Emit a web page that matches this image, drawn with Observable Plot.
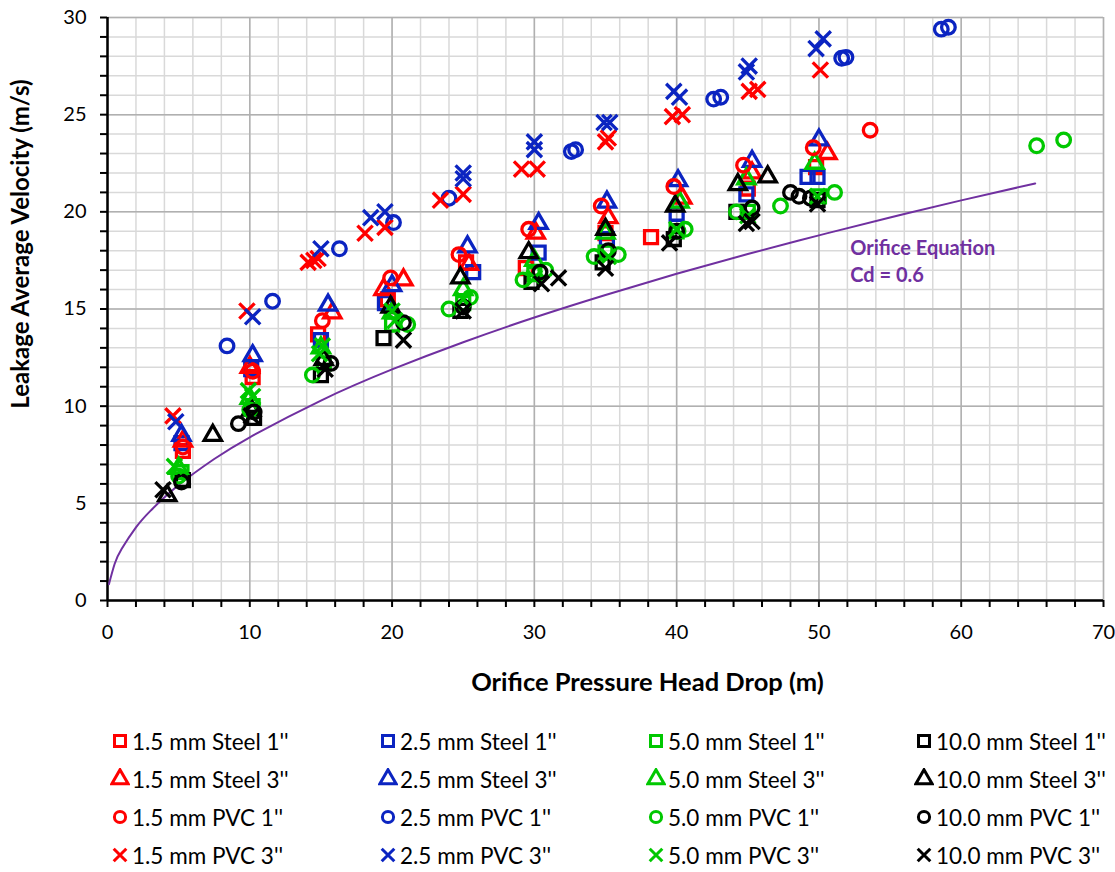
<!DOCTYPE html>
<html><head><meta charset="utf-8">
<script src="https://cdn.jsdelivr.net/npm/d3@7"></script>
<script src="https://cdn.jsdelivr.net/npm/@observablehq/plot@0.6"></script>
<style>
body{margin:0;background:#fff;font-family:Lato,"Open Sans",sans-serif;}
#wrap{position:relative;width:1115px;height:872px;overflow:hidden;}
.leg{position:absolute;display:flex;align-items:center;font-size:22.5px;color:#000;white-space:nowrap;height:30px;}
.leg svg{margin-right:2px;}
</style></head><body><div id="wrap"></div>
<script>
// ---- data: [head drop (m), velocity (m/s)] ----
const s15Steel1 = [[5.3,7.7],[10.2,11.5],[14.8,13.7],[19.7,15.5],[25.2,17.4],[29.4,17.1],[35.0,18.9],[38.2,18.7],[45.0,21.2],[49.8,22.3]];
const s25Steel1 = [[5.2,8.1],[10.1,11.9],[15.0,13.4],[19.5,15.3],[25.7,16.9],[30.3,17.9],[35.1,18.6],[40.0,19.9],[44.9,20.9],[49.2,21.8],[49.9,21.8]];
const s50Steel1 = [[5.2,6.6],[10.2,10.0],[15.2,12.2],[20.0,14.2],[25.0,15.3],[30.0,16.8],[35.0,17.9],[40.0,19.0],[45.0,20.0],[50.0,20.8]];
const s100Steel1 = [[5.3,6.2],[10.3,9.4],[15.0,11.6],[19.4,13.5],[24.8,14.9],[29.8,16.4],[34.8,17.4],[39.8,18.6],[44.2,20.0],[49.9,20.6]];

const s15Steel3 = [[5.3,8.2],[10.0,12.0],[15.8,14.8],[19.4,16.0],[20.8,16.5],[25.4,17.3],[30.1,18.9],[35.2,19.7],[40.4,20.7],[45.3,22.0],[50.6,23.0]];
const s25Steel3 = [[5.2,8.5],[10.2,12.6],[15.5,15.2],[20.0,16.2],[25.3,18.2],[30.3,19.4],[35.1,20.5],[40.1,21.6],[45.3,22.6],[50.0,23.7]];
const s50Steel3 = [[5.0,6.8],[10.0,10.4],[15.0,13.0],[20.0,14.8],[25.0,16.0],[30.0,17.5],[35.0,18.9],[40.2,20.5],[44.9,21.7],[49.7,22.5]];
const s100Steel3 = [[4.2,5.4],[7.4,8.5],[10.1,9.8],[15.2,12.4],[19.9,15.1],[24.8,16.6],[29.6,17.9],[35.0,19.1],[39.9,20.3],[44.3,21.4],[46.4,21.8]];

const s15PVC1 = [[5.3,7.9],[10.2,11.8],[15.1,14.4],[19.9,16.6],[24.7,17.8],[29.6,19.1],[34.7,20.3],[39.8,21.3],[44.7,22.4],[49.6,23.3],[53.6,24.2]];
const s25PVC1 = [[8.4,13.1],[11.6,15.4],[16.3,18.1],[20.1,19.45],[24.0,20.7],[32.6,23.1],[32.9,23.2],[42.6,25.8],[43.1,25.9],[51.6,27.9],[51.9,27.95],[58.6,29.4],[59.1,29.5]];
const s50PVC1 = [[5.0,6.4],[10.0,9.8],[14.4,11.6],[21.1,14.2],[24.0,15.0],[25.5,15.6],[29.2,16.5],[30.8,17.0],[34.2,17.7],[35.9,17.8],[40.1,19.0],[40.6,19.1],[44.2,20.0],[47.3,20.3],[51.1,21.0],[65.3,23.4],[67.2,23.7]];
const s100PVC1 = [[5.2,6.1],[9.2,9.1],[10.3,9.7],[15.7,12.2],[20.8,14.3],[25.0,15.1],[30.4,16.9],[35.2,18.0],[40.0,19.0],[45.3,20.2],[48.0,21.0],[48.6,20.8],[49.4,20.7]];

const s15PVC3 = [[4.6,9.5],[9.8,14.9],[14.1,17.4],[14.5,17.5],[14.8,17.6],[18.1,18.9],[19.5,19.2],[23.4,20.6],[25.0,20.9],[29.1,22.2],[30.2,22.2],[35.0,23.6],[35.2,23.8],[39.7,24.9],[40.4,25.0],[45.1,26.2],[45.7,26.3],[50.1,27.3]];
const s25PVC3 = [[4.8,9.2],[10.2,14.6],[15.0,18.1],[18.5,19.7],[19.5,20.0],[25.0,22.0],[25.0,21.7],[30.0,23.6],[30.0,23.2],[34.9,24.6],[35.3,24.6],[39.8,26.2],[40.2,25.9],[44.9,27.2],[45.1,27.5],[49.8,28.4],[50.3,28.9]];
const s50PVC3 = [[4.7,6.9],[9.9,10.8],[10.2,10.5],[15.1,13.1],[14.9,12.7],[20.2,14.4],[20.0,14.9],[25.0,15.5],[30.0,16.6],[35.2,17.7],[40.0,19.1],[45.0,19.8],[49.9,20.8]];
const s100PVC3 = [[3.9,5.7],[10.1,9.5],[15.3,11.9],[20.8,13.4],[25.0,14.9],[30.5,16.3],[31.7,16.6],[35.0,17.1],[39.5,18.4],[44.9,19.4],[45.3,19.5],[49.9,20.4]];

// orifice equation curve (Cd = 0.6)
const orificeHead = [0.1,0.5,1,2,3,5,7.5,10,15,20,25,30,35,40,45,50,55,60,65.2];
const orificeVel  = [0.84,1.88,2.66,3.76,4.60,5.94,7.28,8.40,10.29,11.89,13.29,14.56,15.72,16.81,17.83,18.79,19.71,20.59,21.46];

const sizes = ["1.5 mm","2.5 mm","5.0 mm","10.0 mm"];
const pipes = ["Steel 1''","Steel 3''","PVC 1''","PVC 3''"];
const colors = ["#FF0000","#0B24C1","#00C800","#000000"];
const shapes = ["square","triangle","circle","times"];
const seriesData = [
  [s15Steel1,s25Steel1,s50Steel1,s100Steel1],
  [s15Steel3,s25Steel3,s50Steel3,s100Steel3],
  [s15PVC1,s25PVC1,s50PVC1,s100PVC1],
  [s15PVC3,s25PVC3,s50PVC3,s100PVC3]
];
const shapeR = {square:7.3, triangle:6.4, circle:6.8, times:7};

const xMinor = d3.range(0,71,2), xMajor = d3.range(0,71,10);
const yMinor = d3.range(0,31,1), yMajor = d3.range(0,31,5);

const orifice = orificeHead.map((h,i)=>({h, v:orificeVel[i]}));

const dotMarks = [];
seriesData.forEach((row,ri)=>row.forEach((arr,ci)=>{
  const data = arr.map(([x,y])=>({x,y}));
  dotMarks.push(Plot.dot(data,{x:"x",y:"y",symbol:shapes[ri],r:shapeR[shapes[ri]],stroke:colors[ci],fill:"none",strokeWidth:3.3}));
}));

const font = "Lato, 'Open Sans', sans-serif";
const chart = Plot.plot({
  width:1115, height:712,
  marginTop:17, marginLeft:107, marginRight:12, marginBottom:112,
  style:{fontFamily:font, fontSize:"20px", color:"#000", background:"#fff"},
  x:{domain:[0,70]},
  y:{domain:[0,30]},
  marks:[
    Plot.gridX(xMinor,{stroke:"#d9d9d9",strokeOpacity:1,strokeWidth:1.5}),
    Plot.gridY(yMinor,{stroke:"#d9d9d9",strokeOpacity:1,strokeWidth:1.5}),
    Plot.gridX(xMajor,{stroke:"#b0b0b0",strokeOpacity:1,strokeWidth:1.5}),
    Plot.gridY(yMajor,{stroke:"#b0b0b0",strokeOpacity:1,strokeWidth:1.5}),
    Plot.axisX({ticks:xMinor,tickSize:7,tickPadding:17,strokeWidth:2,label:null,fontSize:20,tickFormat:d=>d%10===0?String(d):""}),
    Plot.axisY({ticks:yMinor,tickSize:7,tickPadding:14,strokeWidth:2,label:null,fontSize:20,tickFormat:d=>d%5===0?String(d):""}),
    Plot.ruleX([0],{stroke:"#000",strokeWidth:2.5}),
    Plot.ruleY([0],{stroke:"#000",strokeWidth:2.5}),
    Plot.line(orifice,{x:"h",y:"v",stroke:"#7030A0",strokeWidth:2,curve:"natural"}),
    ...dotMarks,
    Plot.text(["Orifice Equation"],{x:52.2,y:18.1,text:d=>d,textAnchor:"start",fill:"#7030A0",fontWeight:"bold",fontSize:20}),
    Plot.text(["Cd = 0.6"],{x:52.2,y:16.7,text:d=>d,textAnchor:"start",fill:"#7030A0",fontWeight:"bold",fontSize:20}),
    Plot.text(["Orifice Pressure Head Drop (m)"],{frameAnchor:"bottom",dx:42,dy:82,textAnchor:"middle",lineAnchor:"middle",text:d=>d,fontWeight:"bold",fontSize:25.5,fill:"#000"}),
    Plot.text(["Leakage Average Velocity (m/s)"],{frameAnchor:"left",dx:-86,dy:-65,rotate:-90,textAnchor:"middle",lineAnchor:"middle",text:d=>d,fontWeight:"bold",fontSize:24,fill:"#000"})
  ]
});
const wrap = document.getElementById("wrap");
wrap.appendChild(chart);

// legend
const legR = {square:6.2, triangle:6, circle:5.6, times:5.8};
for(let r=0;r<4;r++){
  for(let c=0;c<4;c++){
    const div = document.createElement("div");
    div.className="leg";
    div.style.left = (110 + c*268) + "px";
    div.style.top = (726 + r*38) + "px";
    const sym = d3.symbol().type({square:d3.symbolSquare,triangle:d3.symbolTriangle,circle:d3.symbolCircle,times:d3.symbolTimes}[shapes[r]]).size(Math.PI*legR[shapes[r]]**2);
    div.innerHTML = `<svg width="20" height="22" viewBox="-10 -11 20 22"><path d="${sym()}" fill="none" stroke="${colors[c]}" stroke-width="3"/></svg><span>${sizes[c]} ${pipes[r]}</span>`;
    wrap.appendChild(div);
  }
}
</script></body></html>
